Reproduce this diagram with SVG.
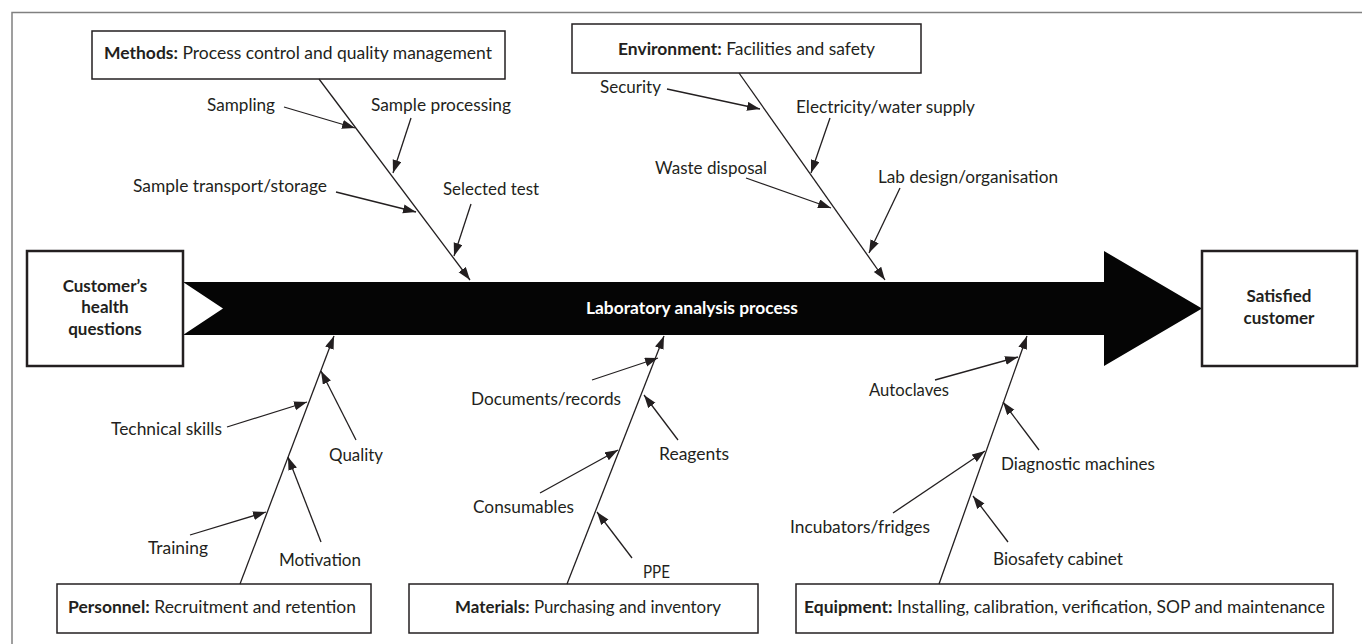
<svg xmlns="http://www.w3.org/2000/svg" width="1362" height="644" viewBox="0 0 1362 644">
<style>
text{font-family:Lato,"Liberation Sans",sans-serif;font-size:17px;fill:#231f20}
.b{font-weight:bold}
.c{text-anchor:middle}
.box{fill:#fff;stroke:#231f20;stroke-width:1.5}
.tbox{fill:#fff;stroke:#231f20;stroke-width:2.5}
.ln{stroke:#231f20;stroke-width:1.3;fill:none;marker-end:url(#ah)}
</style>
<defs>
<marker id="ah" markerUnits="userSpaceOnUse" markerWidth="14" markerHeight="10" refX="13" refY="4.5" orient="auto">
<path d="M0,0 L13,4.5 L0,9 z" fill="#231f20"/>
</marker>
</defs>
<rect width="1362" height="644" fill="#fff"/>
<path d="M12,644 V12.5 H1362" fill="none" stroke="#808080" stroke-width="1.5"/>

<g id="main-arrow">
<polygon points="183,282 1104,282 1104,251 1202,308.5 1104,366 1104,335 183,335 223,308.5" fill="#050505"/>
<text class="b c" x="692" y="314" style="fill:#fff" textLength="212" lengthAdjust="spacingAndGlyphs">Laboratory analysis process</text>
</g>

<g id="customer-questions">
<rect class="tbox" x="27" y="251" width="156" height="115"/>
<text class="b c" x="105" y="292">Customer’s</text>
<text class="b c" x="105" y="313">health</text>
<text class="b c" x="105" y="335">questions</text>
</g>

<g id="satisfied-customer">
<rect class="tbox" x="1202" y="251" width="155" height="115"/>
<text class="b c" x="1279" y="302">Satisfied</text>
<text class="b c" x="1279" y="324">customer</text>
</g>

<g id="methods">
<rect class="box" x="92" y="31" width="413" height="48"/>
<text x="104" y="59" textLength="388" lengthAdjust="spacingAndGlyphs"><tspan class="b">Methods:</tspan> Process control and quality management</text>
</g>

<g id="environment">
<rect class="box" x="572" y="24" width="349" height="49"/>
<text x="618" y="55" textLength="257" lengthAdjust="spacingAndGlyphs"><tspan class="b">Environment:</tspan> Facilities and safety</text>
</g>

<g id="personnel">
<rect class="box" x="57" y="584" width="314" height="49"/>
<text x="68" y="613" textLength="288" lengthAdjust="spacingAndGlyphs"><tspan class="b">Personnel:</tspan> Recruitment and retention</text>
</g>

<g id="materials">
<rect class="box" x="409" y="584" width="349" height="49"/>
<text x="455" y="613" textLength="266" lengthAdjust="spacingAndGlyphs"><tspan class="b">Materials:</tspan> Purchasing and inventory</text>
</g>

<g id="equipment">
<rect class="box" x="796" y="584" width="537" height="49"/>
<text x="804" y="613" textLength="521" lengthAdjust="spacingAndGlyphs"><tspan class="b">Equipment:</tspan> Installing, calibration, verification, SOP and maintenance</text>
</g>

<g id="labels">
<text x="207" y="111" textLength="68" lengthAdjust="spacingAndGlyphs">Sampling</text>
<text x="371" y="111" textLength="140" lengthAdjust="spacingAndGlyphs">Sample processing</text>
<text x="133" y="192" textLength="194" lengthAdjust="spacingAndGlyphs">Sample transport/storage</text>
<text x="443" y="195" textLength="96" lengthAdjust="spacingAndGlyphs">Selected test</text>
<text x="600" y="93" textLength="61" lengthAdjust="spacingAndGlyphs">Security</text>
<text x="796" y="113" textLength="179" lengthAdjust="spacingAndGlyphs">Electricity/water supply</text>
<text x="655" y="174" textLength="112" lengthAdjust="spacingAndGlyphs">Waste disposal</text>
<text x="878" y="183" textLength="180" lengthAdjust="spacingAndGlyphs">Lab design/organisation</text>
<text x="111" y="435" textLength="111" lengthAdjust="spacingAndGlyphs">Technical skills</text>
<text x="329" y="461" textLength="54" lengthAdjust="spacingAndGlyphs">Quality</text>
<text x="148" y="554" textLength="60" lengthAdjust="spacingAndGlyphs">Training</text>
<text x="279" y="566" textLength="82" lengthAdjust="spacingAndGlyphs">Motivation</text>
<text x="471" y="405" textLength="150" lengthAdjust="spacingAndGlyphs">Documents/records</text>
<text x="659" y="460" textLength="70" lengthAdjust="spacingAndGlyphs">Reagents</text>
<text x="473" y="513" textLength="101" lengthAdjust="spacingAndGlyphs">Consumables</text>
<text x="643" y="578" textLength="27" lengthAdjust="spacingAndGlyphs">PPE</text>
<text x="869" y="396" textLength="80" lengthAdjust="spacingAndGlyphs">Autoclaves</text>
<text x="1001" y="470" textLength="154" lengthAdjust="spacingAndGlyphs">Diagnostic machines</text>
<text x="790" y="533" textLength="140" lengthAdjust="spacingAndGlyphs">Incubators/fridges</text>
<text x="993" y="565" textLength="130" lengthAdjust="spacingAndGlyphs">Biosafety cabinet</text>
</g>

<g id="connectors">
<line class="ln" x1="319" y1="79" x2="470" y2="280"/>
<line class="ln" x1="739" y1="73" x2="885" y2="280"/>
<line class="ln" x1="240" y1="584" x2="334" y2="336"/>
<line class="ln" x1="567" y1="584" x2="664" y2="336"/>
<line class="ln" x1="939" y1="584" x2="1027" y2="336"/>

<line class="ln" x1="284" y1="107" x2="355" y2="128"/>
<line class="ln" x1="411" y1="118" x2="393" y2="173"/>
<line class="ln" x1="336" y1="192" x2="416" y2="212"/>
<line class="ln" x1="471" y1="204" x2="454" y2="256"/>

<line class="ln" x1="667" y1="89" x2="760" y2="109"/>
<line class="ln" x1="830" y1="118" x2="811" y2="173"/>
<line class="ln" x1="746" y1="178" x2="831" y2="208"/>
<line class="ln" x1="900" y1="188" x2="869" y2="253"/>

<line class="ln" x1="227" y1="427" x2="307" y2="402"/>
<line class="ln" x1="356" y1="440" x2="321" y2="371"/>
<line class="ln" x1="190" y1="535" x2="266" y2="512"/>
<line class="ln" x1="321" y1="542" x2="288" y2="457"/>

<line class="ln" x1="592" y1="380" x2="658" y2="358"/>
<line class="ln" x1="678" y1="440" x2="644" y2="395"/>
<line class="ln" x1="540" y1="493" x2="618" y2="450"/>
<line class="ln" x1="632" y1="558" x2="597" y2="512"/>

<line class="ln" x1="935" y1="380" x2="1018" y2="357"/>
<line class="ln" x1="1039" y1="450" x2="1003" y2="402"/>
<line class="ln" x1="893" y1="513" x2="985" y2="451"/>
<line class="ln" x1="1008" y1="542" x2="973" y2="496"/>
</g>
</svg>
